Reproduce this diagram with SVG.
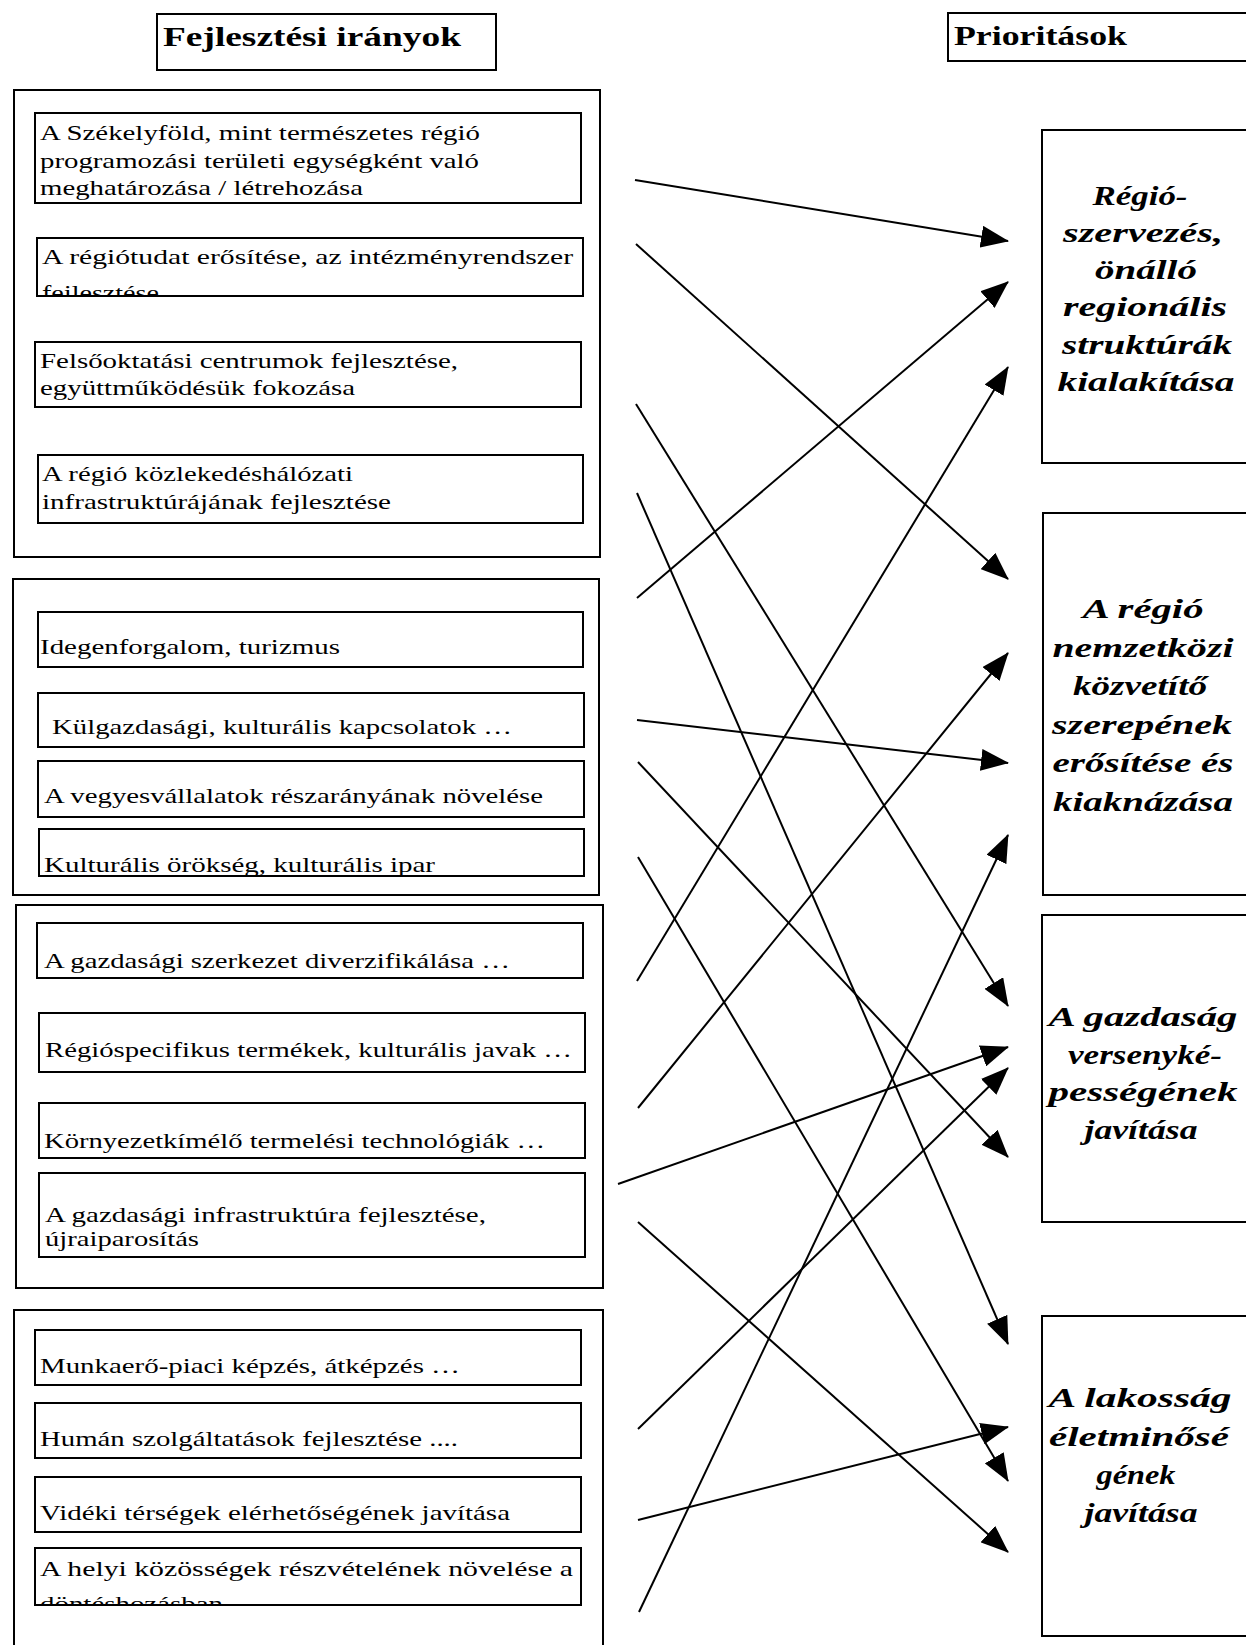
<svg xmlns="http://www.w3.org/2000/svg" width="1246" height="1645" viewBox="0 0 1246 1645">
<style>
.box{fill:none;stroke:#000;stroke-width:2}
.t{font-family:"Liberation Serif","Times New Roman",serif;font-size:21px;fill:#000}
.h{font-family:"Liberation Serif","Times New Roman",serif;font-weight:bold;font-size:28px;fill:#000}
.p{font-family:"Liberation Serif","Times New Roman",serif;font-weight:bold;font-style:italic;font-size:27px;fill:#000;text-anchor:middle}
.c{stroke:#000;stroke-width:2;fill:none;marker-end:url(#ah)}
</style>
<defs>
<marker id="ah" markerWidth="28" markerHeight="22" refX="27" refY="11" orient="auto" markerUnits="userSpaceOnUse"><path d="M0,0 L28,11 L0,22 z" fill="#000"/></marker>
<clipPath id="clip12"><rect x="37" y="238" width="546" height="58"/></clipPath>
<clipPath id="clip44"><rect x="35" y="1548" width="546" height="57"/></clipPath>
</defs>
<rect width="1246" height="1645" fill="#fff"/>

<g id="title-left">
<rect class="box" x="157" y="14" width="339" height="56"/>
<text class="h" x="163" y="46" textLength="298" lengthAdjust="spacingAndGlyphs">Fejlesztési irányok</text>
</g>
<g id="title-right">
<rect class="box" x="948" y="13" width="320" height="48"/>
<text class="h" x="954" y="45" textLength="173" lengthAdjust="spacingAndGlyphs">Prioritások</text>
</g>

<g id="group1"><rect class="box" x="14" y="90" width="586" height="467"/></g>
<g id="group2"><rect class="box" x="13" y="579" width="586" height="316"/></g>
<g id="group3"><rect class="box" x="16" y="905" width="587" height="383"/></g>
<g id="group4"><rect class="box" x="14" y="1310" width="589" height="360"/></g>

<g id="n1-1">
<rect class="box" x="35" y="113" width="546" height="90"/>
<text class="t" x="40" y="140" textLength="440" lengthAdjust="spacingAndGlyphs">A Székelyföld, mint természetes régió</text>
<text class="t" x="40" y="168" textLength="439" lengthAdjust="spacingAndGlyphs">programozási területi egységként való</text>
<text class="t" x="40" y="195" textLength="323" lengthAdjust="spacingAndGlyphs">meghatározása / létrehozása</text>
</g>
<g id="n1-2">
<rect class="box" x="37" y="238" width="546" height="58"/>
<text class="t" x="42" y="264" textLength="531" lengthAdjust="spacingAndGlyphs">A régiótudat erősítése, az intézményrendszer</text>
<text class="t" x="42" y="300" textLength="117" lengthAdjust="spacingAndGlyphs" clip-path="url(#clip12)">fejlesztése</text>
</g>
<g id="n1-3">
<rect class="box" x="35" y="342" width="546" height="65"/>
<text class="t" x="40" y="368" textLength="418" lengthAdjust="spacingAndGlyphs">Felsőoktatási centrumok fejlesztése,</text>
<text class="t" x="40" y="395" textLength="315" lengthAdjust="spacingAndGlyphs">együttműködésük fokozása</text>
</g>
<g id="n1-4">
<rect class="box" x="38" y="455" width="545" height="68"/>
<text class="t" x="42" y="481" textLength="311" lengthAdjust="spacingAndGlyphs">A régió közlekedéshálózati</text>
<text class="t" x="42" y="509" textLength="349" lengthAdjust="spacingAndGlyphs">infrastruktúrájának fejlesztése</text>
</g>

<g id="n2-1">
<rect class="box" x="38" y="612" width="545" height="55"/>
<text class="t" x="40" y="654" textLength="300" lengthAdjust="spacingAndGlyphs">Idegenforgalom, turizmus</text>
</g>
<g id="n2-2">
<rect class="box" x="38" y="693" width="546" height="54"/>
<text class="t" x="52" y="734" textLength="460" lengthAdjust="spacingAndGlyphs">Külgazdasági, kulturális kapcsolatok …</text>
</g>
<g id="n2-3">
<rect class="box" x="38" y="761" width="546" height="56"/>
<text class="t" x="44" y="803" textLength="499" lengthAdjust="spacingAndGlyphs">A vegyesvállalatok részarányának növelése</text>
</g>
<g id="n2-4">
<rect class="box" x="39" y="829" width="545" height="47"/>
<text class="t" x="44" y="872" textLength="391" lengthAdjust="spacingAndGlyphs">Kulturális örökség, kulturális ipar</text>
</g>

<g id="n3-1">
<rect class="box" x="37" y="923" width="546" height="55"/>
<text class="t" x="44" y="968" textLength="466" lengthAdjust="spacingAndGlyphs">A gazdasági szerkezet diverzifikálása …</text>
</g>
<g id="n3-2">
<rect class="box" x="39" y="1013" width="546" height="59"/>
<text class="t" x="45" y="1057" textLength="527" lengthAdjust="spacingAndGlyphs">Régióspecifikus termékek, kulturális javak …</text>
</g>
<g id="n3-3">
<rect class="box" x="39" y="1103" width="546" height="55"/>
<text class="t" x="44" y="1148" textLength="501" lengthAdjust="spacingAndGlyphs">Környezetkímélő termelési technológiák …</text>
</g>
<g id="n3-4">
<rect class="box" x="39" y="1173" width="546" height="84"/>
<text class="t" x="45" y="1222" textLength="441" lengthAdjust="spacingAndGlyphs">A gazdasági infrastruktúra fejlesztése,</text>
<text class="t" x="45" y="1246" textLength="154" lengthAdjust="spacingAndGlyphs">újraiparosítás</text>
</g>

<g id="n4-1">
<rect class="box" x="35" y="1330" width="546" height="55"/>
<text class="t" x="40" y="1373" textLength="420" lengthAdjust="spacingAndGlyphs">Munkaerő-piaci képzés, átképzés …</text>
</g>
<g id="n4-2">
<rect class="box" x="35" y="1403" width="546" height="55"/>
<text class="t" x="40" y="1446" textLength="418" lengthAdjust="spacingAndGlyphs">Humán szolgáltatások fejlesztése ....</text>
</g>
<g id="n4-3">
<rect class="box" x="35" y="1477" width="546" height="55"/>
<text class="t" x="40" y="1520" textLength="470" lengthAdjust="spacingAndGlyphs">Vidéki térségek elérhetőségének javítása</text>
</g>
<g id="n4-4">
<rect class="box" x="35" y="1548" width="546" height="57"/>
<text class="t" x="40" y="1576" textLength="533" lengthAdjust="spacingAndGlyphs">A helyi közösségek részvételének növelése a</text>
<text class="t" x="40" y="1611" textLength="183" lengthAdjust="spacingAndGlyphs" clip-path="url(#clip44)">döntéshozásban</text>
</g>

<g id="p1">
<rect class="box" x="1042" y="130" width="220" height="333"/>
<text class="p" x="1140" y="205" textLength="95" lengthAdjust="spacingAndGlyphs">Régió-</text>
<text class="p" x="1143" y="242" textLength="160" lengthAdjust="spacingAndGlyphs">szervezés,</text>
<text class="p" x="1146" y="279" textLength="102" lengthAdjust="spacingAndGlyphs">önálló</text>
<text class="p" x="1145" y="316" textLength="164" lengthAdjust="spacingAndGlyphs">regionális</text>
<text class="p" x="1147" y="354" textLength="170" lengthAdjust="spacingAndGlyphs">struktúrák</text>
<text class="p" x="1146" y="391" textLength="177" lengthAdjust="spacingAndGlyphs">kialakítása</text>
</g>
<g id="p2">
<rect class="box" x="1043" y="513" width="220" height="382"/>
<text class="p" x="1143" y="618" textLength="121" lengthAdjust="spacingAndGlyphs">A régió</text>
<text class="p" x="1143" y="657" textLength="181" lengthAdjust="spacingAndGlyphs">nemzetközi</text>
<text class="p" x="1140" y="695" textLength="134" lengthAdjust="spacingAndGlyphs">közvetítő</text>
<text class="p" x="1142" y="734" textLength="180" lengthAdjust="spacingAndGlyphs">szerepének</text>
<text class="p" x="1143" y="772" textLength="181" lengthAdjust="spacingAndGlyphs">erősítése és</text>
<text class="p" x="1143" y="811" textLength="180" lengthAdjust="spacingAndGlyphs">kiaknázása</text>
</g>
<g id="p3">
<rect class="box" x="1042" y="915" width="220" height="307"/>
<text class="p" x="1143" y="1026" textLength="189" lengthAdjust="spacingAndGlyphs">A gazdaság</text>
<text class="p" x="1145" y="1064" textLength="154" lengthAdjust="spacingAndGlyphs">versenyké-</text>
<text class="p" x="1143" y="1101" textLength="189" lengthAdjust="spacingAndGlyphs">pességének</text>
<text class="p" x="1141" y="1139" textLength="113" lengthAdjust="spacingAndGlyphs">javítása</text>
</g>
<g id="p4">
<rect class="box" x="1042" y="1316" width="220" height="320"/>
<text class="p" x="1140" y="1407" textLength="183" lengthAdjust="spacingAndGlyphs">A lakosság</text>
<text class="p" x="1139" y="1446" textLength="180" lengthAdjust="spacingAndGlyphs">életminősé</text>
<text class="p" x="1136" y="1484" textLength="79" lengthAdjust="spacingAndGlyphs">gének</text>
<text class="p" x="1141" y="1522" textLength="113" lengthAdjust="spacingAndGlyphs">javítása</text>
</g>

<g id="connectors">
<line class="c" x1="635" y1="180" x2="1008" y2="241"/>
<line class="c" x1="636" y1="244" x2="1008" y2="579"/>
<line class="c" x1="636" y1="404" x2="1008" y2="1006"/>
<line class="c" x1="637" y1="493" x2="1008" y2="1344"/>
<line class="c" x1="637" y1="598" x2="1008" y2="282"/>
<line class="c" x1="637" y1="720" x2="1008" y2="763"/>
<line class="c" x1="638" y1="762" x2="1008" y2="1157"/>
<line class="c" x1="638" y1="857" x2="1008" y2="1481"/>
<line class="c" x1="637" y1="981" x2="1008" y2="367"/>
<line class="c" x1="638" y1="1108" x2="1008" y2="653"/>
<line class="c" x1="618" y1="1184" x2="1008" y2="1047"/>
<line class="c" x1="638" y1="1222" x2="1008" y2="1552"/>
<line class="c" x1="638" y1="1429" x2="1008" y2="1068"/>
<line class="c" x1="638" y1="1520" x2="1008" y2="1427"/>
<line class="c" x1="639" y1="1612" x2="1008" y2="835"/>
</g>
</svg>
